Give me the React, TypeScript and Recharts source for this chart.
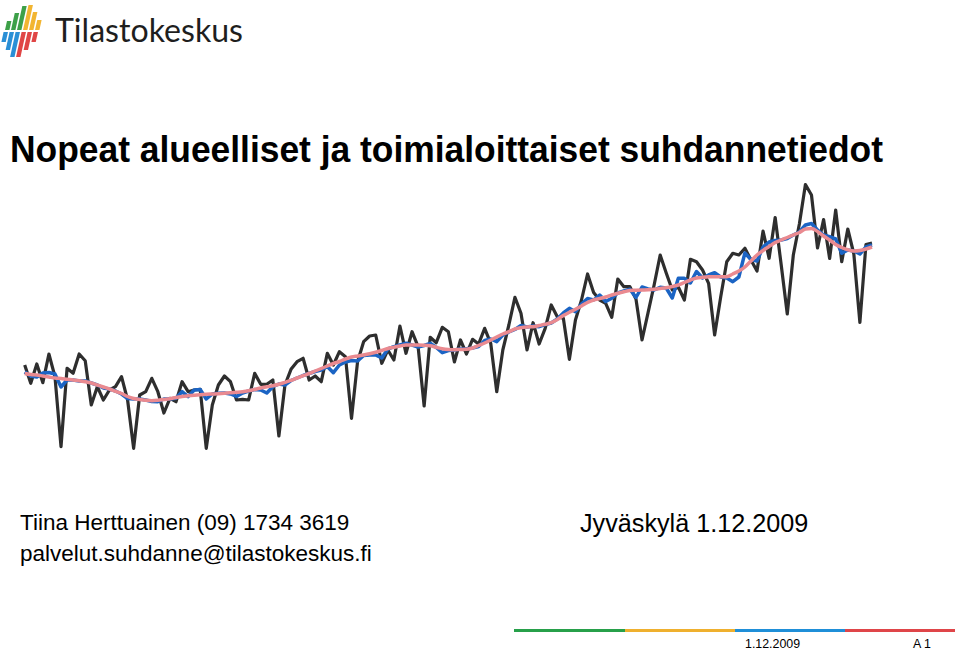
import React from "react";
import { LineChart, Line, XAxis, YAxis } from "recharts";

// monthly index, Jan 1998 .. Sep 2009
const years = ["1998", "1999", "2000", "2001", "2002", "2003", "2004", "2005", "2006", "2007", "2008", "2009"];
const monthNames = ["01", "02", "03", "04", "05", "06", "07", "08", "09", "10", "11", "12"];
const months: string[] = [];
years.forEach((y) => monthNames.forEach((m) => months.push(`${y}-${m}`)));
const categories = months.slice(0, 141);

const originalSeries = [
  135, 116.7, 136, 117.3, 146, 123.3, 53.3, 131.7, 126.7, 146, 139.3, 95,
  113.3, 100, 110, 113.3, 123.3, 100, 51.7, 105, 108.3, 121.7, 108.3, 87,
  101.7, 98.3, 118.3, 108.3, 110, 110.7, 51.7, 95, 115, 124, 118.3, 100,
  100.7, 100, 126.7, 115.7, 115.7, 120, 64, 115, 130.7, 138.3, 141.7, 120,
  124, 118.3, 146.7, 135, 148.3, 143.3, 81.7, 138.3, 158.3, 164, 165, 136.7,
  150, 140, 174, 146.7, 168.3, 153.3, 94, 162.7, 157.3, 172.7, 168.3, 138,
  160, 146, 160.7, 156, 171.7, 156.7, 108.3, 150, 175, 202.7, 186.7, 150,
  177.3, 156, 171.7, 195, 183.3, 181.7, 140.7, 180, 200, 226, 207.5, 200,
  196.7, 182.7, 221, 213.3, 213.3, 201, 160, 187.3, 215, 245, 227, 210,
  213, 200, 240.7, 238.3, 230, 216.7, 165, 203, 238.3, 246.7, 245, 251.7,
  240, 229, 269, 241.7, 282.5, 235, 186, 245, 276, 315.5, 305, 252,
  280.5, 241.5, 290, 238.3, 271, 246, 177.5, 255.5, 257,
];

const adjustedSeries = [
  128, 124, 123, 127, 127.5, 126, 113, 120, 120, 119, 119, 117,
  115, 112, 111, 109, 106, 101.5, 101, 101, 100, 98.5, 98.3, 101,
  101, 101.7, 108.3, 103.3, 110, 110.5, 101, 106, 106.7, 107, 106, 103.5,
  107, 109, 110.5, 110, 107, 113.3, 116, 115, 119.5, 122, 124.5, 126.5,
  128.5, 130, 133.5, 127.3, 135, 138, 139.5, 139, 144.5, 145, 145, 142,
  151, 153.3, 155, 156.7, 155, 153, 154.5, 156.7, 152.5, 147.3, 149.5, 150,
  151, 151.3, 152, 153.5, 159.5, 161, 158.3, 165, 168, 170.5, 174.5, 173,
  174, 173.3, 175.5, 177, 181, 187, 191.7, 188.3, 196, 201.5, 200, 205,
  198.5, 201.7, 207, 209, 210.7, 202.5, 213, 211, 210, 212.7, 212, 202,
  221.7, 221.7, 217, 228.5, 222, 225, 227.3, 223, 222, 218.3, 223, 247,
  240.5, 239, 253, 258, 259.5, 260, 261.5, 265, 268, 275, 276.5, 270,
  265, 263.3, 261, 246.7, 250, 249, 246, 253, 255,
];

const trendSeries = [
  126.5, 125.5, 125, 124, 123, 122, 121.5, 120.7, 120, 119.3, 118.3, 117,
  115, 113, 111, 108.7, 106.5, 103.5, 101.5, 100.5, 99.7, 99.3, 99.7, 100.5,
  101.3, 102.5, 103.5, 104.2, 104.8, 105.3, 105.7, 106, 106.3, 106.7, 107.2, 107.7,
  108.3, 109.2, 110.5, 112, 113.2, 114.3, 115.7, 117.7, 119.7, 122, 124.3, 126.5,
  129, 131.5, 134, 136.5, 138.5, 141, 143, 144, 145, 146.2, 147.7, 149.5,
  151.5, 152.8, 154, 155, 155, 155, 154.8, 154.2, 152.7, 151.2, 150.5, 150.3,
  150.5, 150.7, 152, 154.5, 157, 160, 163, 166, 168.3, 171, 172.3, 173,
  173.3, 174.5, 175.7, 177.3, 180.5, 184.5, 187.7, 190.7, 194, 197.5, 200, 201.5,
  203, 205, 206.7, 208.2, 209.5, 209.7, 210, 210.3, 210.8, 211.5, 212.3, 213.5,
  215, 217.5, 220, 222, 222.7, 223.2, 223.3, 223.3, 223.3, 226, 229, 233,
  239, 245, 249.5, 253.5, 257.5, 260, 262.5, 265, 267.5, 271, 271.5, 268.5,
  264, 260, 255.5, 252.5, 250.2, 249, 249.5, 251, 253,
];

const data = categories.map((month, i) => ({
  month,
  original: originalSeries[i],
  adjusted: adjustedSeries[i],
  trend: trendSeries[i],
}));

const sans = "'Liberation Sans', Arial, sans-serif";

// logo bars: [x at y=31, top y, bottom y, colour]
const logoBars: [number, number, number, string][] = [
  [7, 21, 30, "#3da048"],
  [13, 13, 30, "#3da048"],
  [19, 6, 30, "#3da048"],
  [25, 5, 30, "#f2b531"],
  [31, 12, 30, "#f2b531"],
  [37, 20, 30, "#f2b531"],
  [6, 32, 42, "#2a8fd6"],
  [12, 32, 50, "#2a8fd6"],
  [18, 32, 57, "#2a8fd6"],
  [24, 32, 57, "#e04545"],
  [30, 32, 50, "#e04545"],
  [36, 32, 42, "#e04545"],
];

function Logo() {
  const k = 0.22;
  return (
    <g>
      {logoBars.map(([cx, top, bottom, color], i) => {
        const xt = cx + k * (31 - top);
        const xb = cx + k * (31 - bottom);
        const pts = `${xt - 2.2},${top} ${xt + 2.2},${top} ${xb + 2.2},${bottom} ${xb - 2.2},${bottom}`;
        return <polygon key={i} points={pts} fill={color} />;
      })}
      <text x={55} y={42} fontFamily="Lato, 'Open Sans', sans-serif" fontSize={33} fill="#1e1e1e"
        textLength={188} lengthAdjust="spacingAndGlyphs">
        Tilastokeskus
      </text>
    </g>
  );
}

export default function App() {
  return (
    <div style={{ position: "absolute", left: 0, top: 0, width: 960, height: 652, background: "#fff", overflow: "hidden" }}>
      <LineChart
        width={960}
        height={652}
        data={data}
        margin={{ top: 170, right: 88, bottom: 192, left: 24.7 }}
        style={{ position: "absolute", left: 0, top: 0 }}
      >
        <XAxis dataKey="month" hide padding={{ left: 0, right: 0 }} />
        <YAxis hide type="number" domain={[40, 330]} allowDataOverflow />
        <Line
          type="linear"
          dataKey="original"
          stroke="#2e2e2e"
          strokeWidth={3.2}
          dot={false}
          strokeLinejoin="round"
          isAnimationActive={false}
        />
        <Line
          type="linear"
          dataKey="adjusted"
          stroke="#1b64c4"
          strokeWidth={3.5}
          dot={false}
          strokeLinejoin="round"
          isAnimationActive={false}
        />
        <Line
          type="monotone"
          dataKey="trend"
          stroke="#ea8a90"
          strokeWidth={3.5}
          dot={false}
          isAnimationActive={false}
        />
      </LineChart>
      <svg width={960} height={652} style={{ position: "absolute", left: 0, top: 0, pointerEvents: "none" }}>
        <Logo />
        <text x={10} y={162} fontFamily={sans} fontWeight="bold" fontSize={36} fill="#000"
          textLength={873} lengthAdjust="spacingAndGlyphs">
          Nopeat alueelliset ja toimialoittaiset suhdannetiedot
        </text>
        <text x={20} y={530} fontFamily={sans} fontSize={22.5} fill="#000">
          Tiina Herttuainen (09) 1734 3619
        </text>
        <text x={20} y={561} fontFamily={sans} fontSize={22.5} fill="#000">
          palvelut.suhdanne@tilastokeskus.fi
        </text>
        <text x={580} y={532} fontFamily={sans} fontSize={25.2} fill="#000">
          Jyväskylä 1.12.2009
        </text>
        <rect x={514} y={629} width={111} height={3} fill="#27a04a" />
        <rect x={625} y={629} width={110} height={3} fill="#efb02e" />
        <rect x={735} y={629} width={110} height={3} fill="#1f8fd8" />
        <rect x={845} y={629} width={110} height={3} fill="#df4549" />
        <text x={745} y={648} fontFamily={sans} fontSize={12.4} fill="#000">
          1.12.2009
        </text>
        <text x={913} y={648} fontFamily={sans} fontSize={12.4} fill="#000">
          A 1
        </text>
      </svg>
    </div>
  );
}
